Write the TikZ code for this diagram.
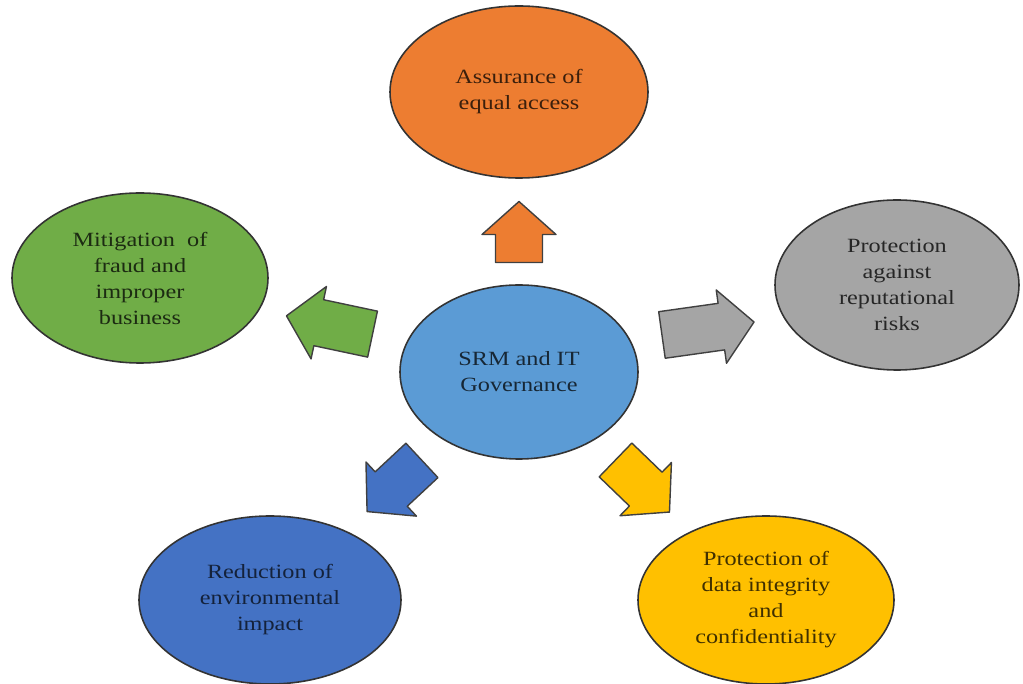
\documentclass[tikz,border=0pt]{standalone}
\usepackage{fontspec}
\setmainfont{Liberation Serif}[FakeStretch=1.2]
\usetikzlibrary{shapes.geometric,calc}
\definecolor{accOrange}{HTML}{ED7D31}
\definecolor{accGreen}{HTML}{70AD47}
\definecolor{accGray}{HTML}{A5A5A5}
\definecolor{accBlue}{HTML}{5B9BD5}
\definecolor{accDarkBlue}{HTML}{4472C4}
\definecolor{accYellow}{HTML}{FFC000}
\tikzset{
  bubble/.style={ellipse, draw=black!80, line width=0.9pt, inner sep=0pt,
    align=center, font=\fontsize{11.5}{14.8}\selectfont},
  blockarrow/.style={draw=black!75, line width=0.8pt, line join=round}
}
\begin{document}
\begin{tikzpicture}
	% Rahmen
	\useasboundingbox (0,0) rectangle (20.46,13.68);
	% Mitte
	\node[bubble, fill=accBlue, text=accBlue!25!black, minimum width=4.76cm, minimum height=3.48cm]
		(srm) at (10.38,6.24) {SRM and IT\\Governance};
	% Aussen
	\node[bubble, fill=accOrange, text=accOrange!25!black, minimum width=5.16cm, minimum height=3.44cm]
		(access) at (10.38,11.84) {Assurance of\\equal access};
	\node[bubble, fill=accGreen, text=accGreen!25!black, minimum width=5.12cm, minimum height=3.40cm]
		(fraud) at (2.80,8.12) {Mitigation\ \ of\\fraud and\\improper\\business};
	\node[bubble, fill=accGray, text=black!85, minimum width=4.88cm, minimum height=3.40cm]
		(reput) at (17.94,7.98) {Protection\\against\\reputational\\risks};
	\node[bubble, fill=accDarkBlue, text=accDarkBlue!30!black, minimum width=5.24cm, minimum height=3.36cm]
		(environ) at (5.40,1.68) {Reduction of\\environmental\\impact};
	\node[bubble, fill=accYellow, text=accYellow!25!black, minimum width=5.12cm, minimum height=3.36cm]
		(data) at (15.32,1.68) {Protection of\\data integrity\\and\\confidentiality};
	% Pfeile
	\foreach \target/\col/\ang/\len in {access/accOrange/90/1.22, fraud/accGreen/168/1.76,
		reput/accGray/8/1.86, environ/accDarkBlue/223/1.5, data/accYellow/-44/1.5}
		\draw[blockarrow, fill=\col, shift={($(srm)!0.5!(\target)$)}, rotate=\ang]
			({-\len/2},-0.47) -- ({\len/2-0.66},-0.47) -- ({\len/2-0.66},-0.74)
			-- ({\len/2},0) -- ({\len/2-0.66},0.74) -- ({\len/2-0.66},0.47)
			-- ({-\len/2},0.47) -- cycle;
\end{tikzpicture}
\end{document}
